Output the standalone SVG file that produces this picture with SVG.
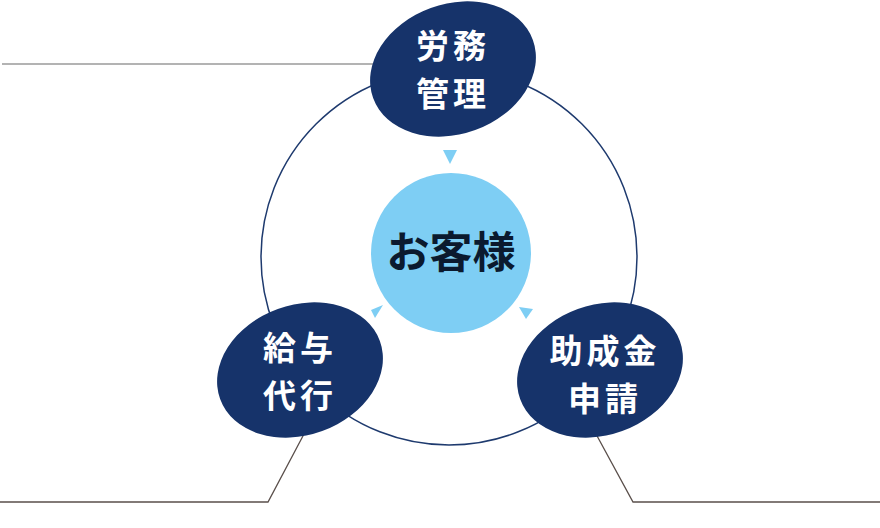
<svg xmlns="http://www.w3.org/2000/svg" width="880" height="528" viewBox="0 0 880 528">
  <style>
    .node { fill: #16336a; }
    .label { fill: #ffffff; font-family: "Noto Sans CJK JP", "Noto Sans CJK SC", sans-serif; font-size: 33px; font-weight: 700; letter-spacing: 4px; text-anchor: middle; }
    .center-label { fill: #0b1a2e; font-family: "Noto Sans CJK JP", "Noto Sans CJK SC", sans-serif; font-size: 43px; font-weight: 700; text-anchor: middle; }
    .tri { fill: #7ecef4; }
    .ring { fill: none; stroke: #1e3a6e; stroke-width: 1.5; }
    .lead-gray { fill: none; stroke: #9a9a9a; stroke-width: 1.4; }
    .lead-dark { fill: none; stroke: #5a4f4b; stroke-width: 1.3; }
  </style>
  <rect width="880" height="528" fill="#ffffff"/>
  <g id="connectors">
    <circle class="ring" cx="449" cy="257" r="188"/>
    <polyline class="lead-gray" points="2,64 380,64"/>
    <polyline class="lead-dark" points="0,502 268,502 304,434"/>
    <polyline class="lead-dark" points="596,434 633,502 880,502"/>
    <polygon class="tri" points="443,150 457,150 450,164"/>
    <polygon class="tri" points="371,310 383,305 375,318"/>
    <polygon class="tri" points="519,307 533,309 526,319"/>
  </g>
  <g id="customer">
    <circle cx="451" cy="253" r="80" fill="#7ecef4"/>
    <text class="center-label" x="451" y="268">お客様</text>
  </g>
  <g id="roumu">
    <ellipse class="node" cx="453" cy="69" rx="85" ry="65" transform="rotate(-20 453 69)"/>
    <text class="label"><tspan x="453" y="58">労務</tspan><tspan x="453" y="106">管理</tspan></text>
  </g>
  <g id="kyuyo">
    <ellipse class="node" cx="300" cy="370" rx="85" ry="65" transform="rotate(-20 300 370)"/>
    <text class="label"><tspan x="300" y="360">給与</tspan><tspan x="300" y="408">代行</tspan></text>
  </g>
  <g id="joseikin">
    <ellipse class="node" cx="600" cy="370" rx="85" ry="65" transform="rotate(-20 600 370)"/>
    <text class="label"><tspan x="605" y="363">助成金</tspan><tspan x="605" y="411">申請</tspan></text>
  </g>
</svg>
